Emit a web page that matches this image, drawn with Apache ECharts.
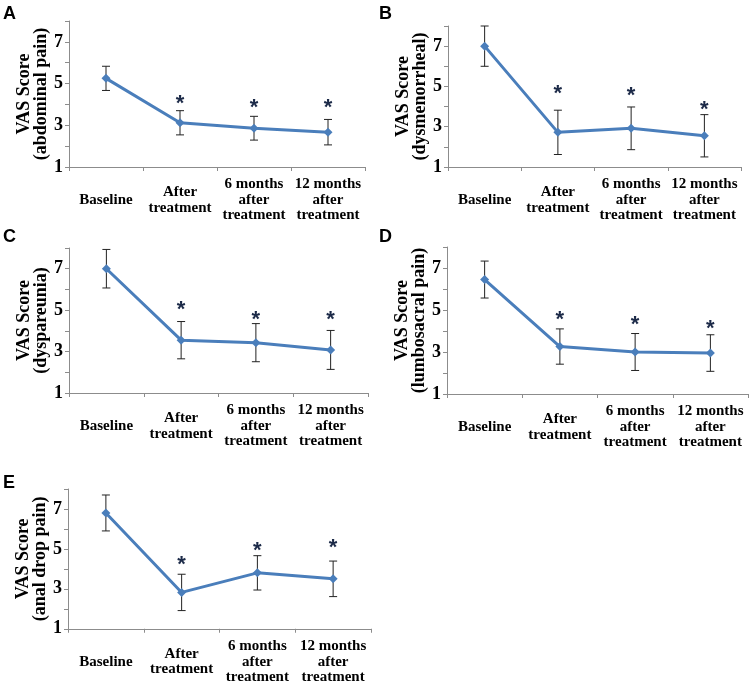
<!DOCTYPE html>
<html><head><meta charset="utf-8">
<script src="https://cdn.jsdelivr.net/npm/echarts@6/dist/echarts.min.js"></script>
<style>html,body{margin:0;padding:0;background:#fff}#c{width:753px;height:685px}</style>
</head><body><div id="c"></div>
<script>
const categories = ['Baseline', 'After\ntreatment', '6 months\nafter\ntreatment', '12 months\nafter\ntreatment'];
const panelLetters = ['A', 'B', 'C', 'D', 'E'];
const yTitles = ['VAS Score\n(abdominal pain)', 'VAS Score\n(dysmenorrheal)', 'VAS Score\n(dyspareunia)', 'VAS Score\n(lumbosacral pain)', 'VAS Score\n(anal drop pain)'];
const yTickValues = [1, 3, 5, 7];

const meanA = [5.25, 3.12, 2.86, 2.67];
const sdA   = [0.58, 0.58, 0.57, 0.61];
const starA = [4.26, 4.07, 4.07];

const meanB = [7.0, 2.72, 2.92, 2.55];
const sdB   = [1.0, 1.1, 1.06, 1.05];
const starB = [4.87, 4.8, 4.08];

const meanC = [7.0, 3.55, 3.43, 3.08];
const sdC   = [0.93, 0.9, 0.92, 0.94];
const starC = [5.24, 4.79, 4.76];

const meanD = [6.45, 3.26, 3.0, 2.95];
const sdD   = [0.88, 0.84, 0.88, 0.87];
const starD = [4.75, 4.54, 4.35];

const meanE = [6.8, 2.82, 3.8, 3.5];
const sdE   = [0.9, 0.91, 0.86, 0.89];
const starE = [4.44, 5.15, 5.29];

const means = [meanA, meanB, meanC, meanD, meanE];
const sds = [sdA, sdB, sdC, sdD, sdE];
const stars = [starA, starB, starC, starD, starE];

// layout (pixels)
const grids = [
  {left: 69, top: 21, width: 296, height: 146},
  {left: 448, top: 26, width: 293, height: 141},
  {left: 69, top: 248, width: 299, height: 145},
  {left: 447, top: 247, width: 301, height: 147},
  {left: 68, top: 489, width: 303, height: 143}
];
const letterPos = [[3, 5], [379, 5], [3, 228], [379, 228], [3, 474]];

const SERIF = '"Times New Roman", "Liberation Serif", serif';
const LINE = '#4a7ebb';
const AXIS = '#8c8c8c';

const option = {
  backgroundColor: '#fff',
  animation: false,
  title: panelLetters.map((t, i) => ({
    text: t, left: letterPos[i][0], top: letterPos[i][1], padding: 0,
    textStyle: {fontFamily: 'Arial, "Liberation Sans", sans-serif', fontWeight: 'bold', fontSize: 18, color: '#000'}
  })),
  grid: grids,
  xAxis: grids.map((g, i) => ({
    type: 'category', gridIndex: i, data: categories, boundaryGap: true,
    axisLine: {lineStyle: {color: AXIS, width: 1}},
    axisTick: {show: true, inside: false, length: 4, lineStyle: {color: AXIS}},
    axisLabel: {interval: 0, margin: 33, verticalAlign: 'middle', color: '#000',
      fontFamily: SERIF, fontWeight: 'bold', fontSize: 15, lineHeight: 15.5},
    splitLine: {show: false}
  })),
  yAxis: grids.map((g, i) => ({
    type: 'value', gridIndex: i, min: 1, max: 8, interval: 1,
    name: yTitles[i], nameLocation: 'middle', nameRotate: 90, nameGap: 17,
    nameTextStyle: {fontFamily: SERIF, fontWeight: 'bold', fontSize: 18, lineHeight: 17, color: '#000'},
    axisLine: {show: true, lineStyle: {color: AXIS, width: 1}},
    axisTick: {show: true, inside: false, length: 4, lineStyle: {color: AXIS}},
    axisLabel: {margin: 6, color: '#000', fontFamily: SERIF, fontWeight: 'bold', fontSize: 18,
      formatter: v => yTickValues.indexOf(v) >= 0 ? String(v) : ''},
    splitLine: {show: false}
  })),
  series: []
};

for (let i = 0; i < 5; i++) {
  const m = means[i], s = sds[i];
  option.series.push({
    type: 'custom', xAxisIndex: i, yAxisIndex: i, z: 1,
    data: m.map((v, k) => [k, v - s[k], v + s[k]]),
    renderItem: (params, api) => {
      const lo = api.coord([api.value(0), api.value(1)]);
      const hi = api.coord([api.value(0), api.value(2)]);
      const hw = 4;
      const st = {stroke: '#222', lineWidth: 1};
      return {type: 'group', children: [
        {type: 'line', shape: {x1: lo[0], y1: lo[1], x2: hi[0], y2: hi[1]}, style: st},
        {type: 'line', shape: {x1: hi[0] - hw, y1: hi[1], x2: hi[0] + hw, y2: hi[1]}, style: st},
        {type: 'line', shape: {x1: lo[0] - hw, y1: lo[1], x2: lo[0] + hw, y2: lo[1]}, style: st}
      ]};
    }
  });
  option.series.push({
    type: 'line', xAxisIndex: i, yAxisIndex: i, z: 3, data: m,
    symbol: 'diamond', symbolSize: 9,
    lineStyle: {color: LINE, width: 3}, itemStyle: {color: LINE}
  });
  option.series.push({
    type: 'custom', xAxisIndex: i, yAxisIndex: i, z: 4,
    data: stars[i].map((v, k) => [k + 1, v]),
    renderItem: (params, api) => {
      const p = api.coord([api.value(0), api.value(1)]);
      return {type: 'text', x: p[0], y: p[1] + 5, style: {
        text: '*', textAlign: 'center', textVerticalAlign: 'middle',
        font: 'bold 22px Arial, "Liberation Sans", sans-serif', fill: '#1c2a48'}};
    }
  });
}

const chart = echarts.init(document.getElementById('c'), null, {renderer: 'canvas'});
chart.setOption(option);
</script>
</body></html>
